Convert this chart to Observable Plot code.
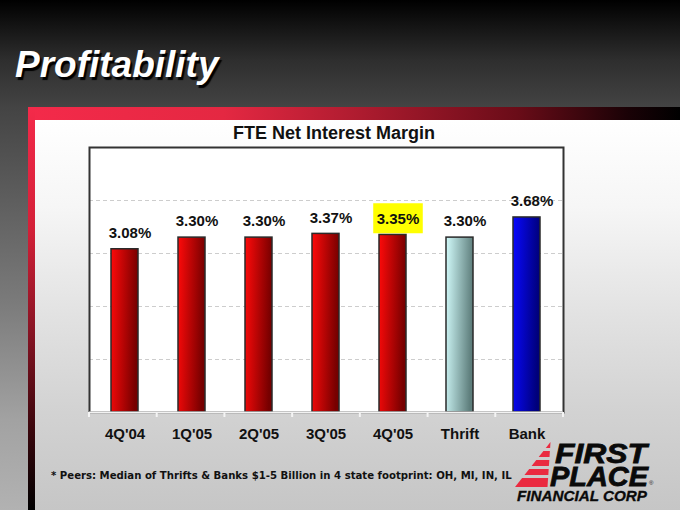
<!DOCTYPE html>
<html>
<head>
<meta charset="utf-8">
<script src="https://cdn.jsdelivr.net/npm/d3@7"></script>
<script src="https://cdn.jsdelivr.net/npm/@observablehq/plot@0.6"></script>
<style>
  html, body { margin: 0; padding: 0; }
  body {
    width: 680px; height: 510px; position: relative; overflow: hidden;
    background: linear-gradient(to bottom, #000 0px, #2e2e2e 60px, #444 108px, #7a7a7a 300px, #a2a2a2 420px, #b2b2b2 510px);
    font-family: "Liberation Sans", Arial, sans-serif;
  }
  .abs { position: absolute; }
  #topband { left: 28px; top: 107px; width: 652px; height: 13px;
    background: linear-gradient(to right, #f42a4a 0%, #e42842 30%, #b01c30 50%, #6a0c18 75%, #1a0206 92%, #000 100%); }
  #leftstrip { left: 28px; top: 107px; width: 7px; height: 403px;
    background: linear-gradient(to bottom, #f42a4a 0%, #d42038 30%, #8a1424 55%, #3a060c 80%, #000 100%); }
  #panel { left: 35px; top: 120px; width: 645px; height: 390px;
    background: linear-gradient(to bottom, #ffffff 0%, #f6f6f6 22%, #e2e2e2 50%, #d2d2d2 75%, #c6c6c6 100%); }
  #slidetitle { left: 15px; top: 46px; font-size: 37px; line-height: 37px; font-weight: bold; font-style: italic;
    color: #fff; text-shadow: 2px 3px 1px #000; white-space: nowrap; }
  #charttitle { left: 229px; width: 210px; text-align: center; top: 124px; font-size: 18px; line-height: 18px;
    font-weight: bold; color: #111; white-space: nowrap; }
  #chart { left: 35px; top: 140px; }
</style>
</head>
<body>
<div id="topband" class="abs"></div>
<div id="leftstrip" class="abs"></div>
<div id="panel" class="abs"></div>
<div id="slidetitle" class="abs">Profitability</div>
<div id="charttitle" class="abs">FTE Net Interest Margin</div>
<div id="chart" class="abs"></div>

<svg class="abs" style="left:0;top:450px" width="540" height="42">
  <text id="footnote" x="51" y="29"
        font-family="'DejaVu Sans Condensed', 'DejaVu Sans', sans-serif" font-weight="bold" font-size="12.5" fill="#111">* Peers: Median of Thrifts &amp; Banks $1-5 Billion in 4 state footprint: OH, MI, IN, IL</text>
</svg>

<svg class="abs" style="left:500px;top:430px" width="180" height="80">
  <defs>
    <clipPath id="tri"><polygon points="50.5,12 15,57 47.5,57"></polygon></clipPath>
  </defs>
  <g clip-path="url(#tri)" fill="#ea2a40">
    <rect x="10" y="12" width="45" height="6"></rect>
    <rect x="10" y="21" width="45" height="6"></rect>
    <rect x="10" y="30" width="45" height="6"></rect>
    <rect x="10" y="39" width="45" height="6"></rect>
    <rect x="10" y="48" width="45" height="9"></rect>
  </g>
  <g font-family="'Liberation Sans', Arial, sans-serif" font-weight="bold" font-style="italic" fill="#0a0a0a" stroke="#0a0a0a" stroke-width="0.8">
    <text x="55" y="33" font-size="28" textLength="92" lengthAdjust="spacingAndGlyphs">FIRST</text>
    <text x="50" y="56" font-size="28" textLength="98" lengthAdjust="spacingAndGlyphs">PLACE</text>
    <text x="17" y="71" font-size="14" stroke-width="0.3" textLength="130" lengthAdjust="spacingAndGlyphs">FINANCIAL CORP</text>
  </g>
  <text x="149" y="55" font-size="6" font-family="'Liberation Sans', Arial, sans-serif" fill="#222">®</text>
</svg>

<script>
// ---- data ----
const categories = ["4Q'04", "1Q'05", "2Q'05", "3Q'05", "4Q'05", "Thrift", "Bank"];
const margins = [3.08, 3.30, 3.30, 3.37, 3.35, 3.30, 3.68];
const groups = ["First Place", "First Place", "First Place", "First Place", "First Place", "Thrift", "Bank"];
const highlightCategory = "4Q'05";
const gridValues = [1, 2, 3, 4];
const yDomain = [0, 5];

const data = categories.map((c, i) => ({
  category: c, value: margins[i], group: groups[i], label: margins[i].toFixed(2) + "%"
}));

const W = 645, H = 310, ML = 54, MR = 117, MT = 7, MB = 38;

const plot = Plot.plot({
  width: W, height: H,
  marginLeft: ML, marginRight: MR, marginTop: MT, marginBottom: MB,
  style: { background: "transparent", fontFamily: "'Liberation Sans', Arial, sans-serif", fontSize: "15px", fontWeight: "bold", color: "#111", overflow: "visible" },
  x: { domain: categories, paddingInner: 0.59, paddingOuter: 0.295, label: null, tickSize: 0, tickPadding: 16 },
  y: { domain: yDomain, axis: null },
  color: { domain: ["First Place", "Thrift", "Bank"], range: ["url(#gRed)", "url(#gThrift)", "url(#gBank)"] },
  marks: [
    Plot.frame({ fill: "white", stroke: "none" }),
    Plot.ruleY(gridValues, { stroke: "#cdcdcd", strokeDasharray: "4,3", strokeWidth: 1 }),
    Plot.barY(data, { x: "category", y: "value", fill: "group", stroke: "#2a2a2a", strokeWidth: 1.5 }),
    Plot.frame({ stroke: "#333", strokeWidth: 2 }),
    Plot.ruleY([yDomain[0]], { stroke: "#f2f2f2", strokeWidth: 2 }),
    Plot.text(data, { x: "category", y: "value", text: "label", dy: -16, dx: 5, fontSize: 15, fontWeight: "bold", fill: "#111" })
  ]
});

document.getElementById("chart").appendChild(plot);

const svg = d3.select(plot);
const defs = svg.insert("defs", ":first-child");
function grad(id, c0, c1) {
  const g = defs.append("linearGradient").attr("id", id)
    .attr("x1", "0").attr("y1", "0").attr("x2", "1").attr("y2", "0.15");
  g.append("stop").attr("offset", "0%").attr("stop-color", c0);
  g.append("stop").attr("offset", "100%").attr("stop-color", c1);
}
grad("gRed", "#ff0a0a", "#760000");
grad("gThrift", "#d2fbfb", "#5e7e7c");
grad("gBank", "#0808ff", "#00007a");

// band-boundary tick marks below the baseline
const step = (W - ML - MR) / categories.length;
const y0 = H - MB;
svg.append("g").selectAll("line").data(d3.range(categories.length + 1)).join("line")
  .attr("x1", i => ML + i * step).attr("x2", i => ML + i * step)
  .attr("y1", y0).attr("y2", y0 + 5)
  .attr("stroke", "#f4f4f4").attr("stroke-width", 2);

// yellow highlight behind the selected label
const labelNodes = svg.selectAll('g[aria-label="text"] text').nodes();
const hi = labelNodes[categories.indexOf(highlightCategory)];
if (hi) {
  const bb = hi.getBBox();
  const cy = bb.y + bb.height / 2;
  const r = d3.select(hi.parentNode).insert("rect", ":first-child")
    .attr("x", bb.x - 3.5).attr("width", bb.width + 7)
    .attr("y", cy - 15).attr("height", 30)
    .attr("fill", "#ffff00");
  const tf = hi.getAttribute("transform");
  if (tf) r.attr("transform", tf);
}

// fit the footnote to the reference width by font size (no glyph stretching)
const fn = document.getElementById("footnote");
const w0 = fn.getComputedTextLength();
if (w0 > 0) fn.setAttribute("font-size", (12.5 * 461 / w0).toFixed(2));
</script>
</body>
</html>
